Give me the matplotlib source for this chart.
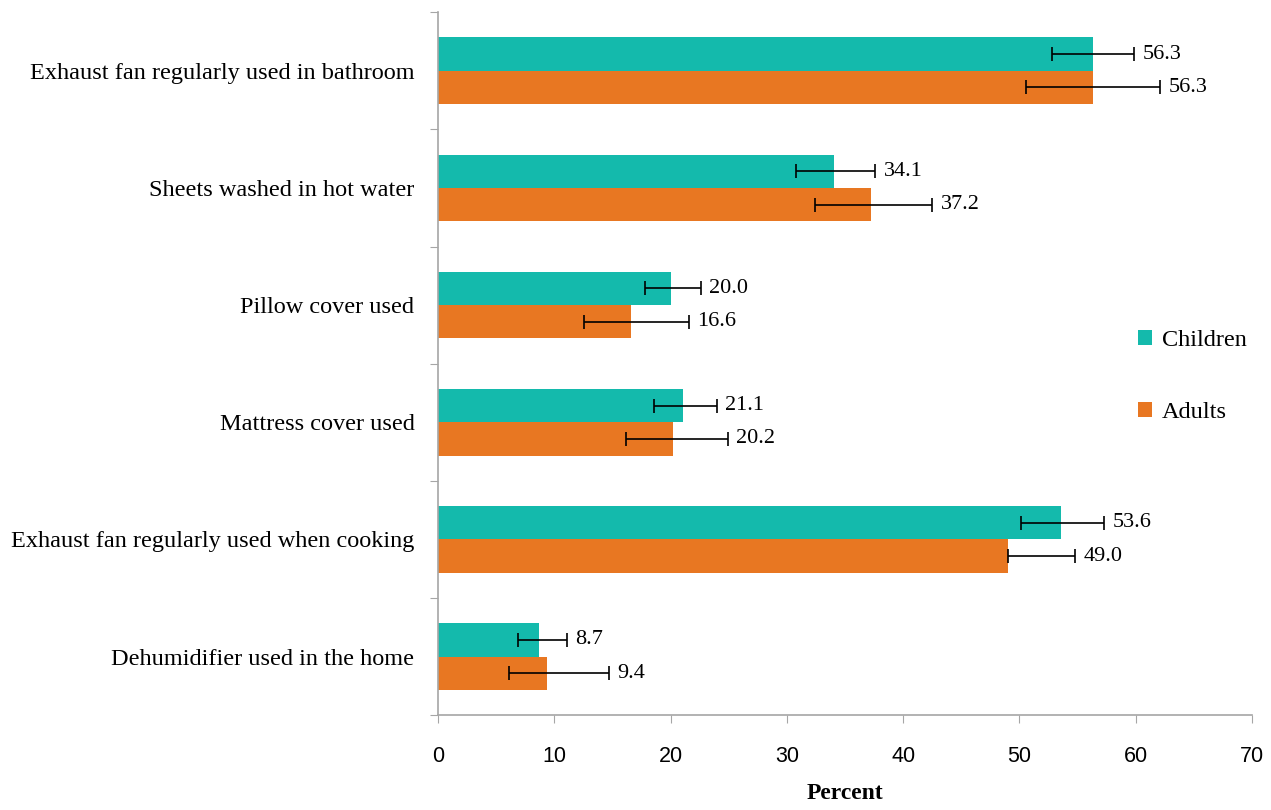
import numpy as np
import matplotlib
matplotlib.use("Agg")
import matplotlib.pyplot as plt

categories = [
    "Exhaust fan regularly used in bathroom",
    "Sheets washed in hot water",
    "Pillow cover used",
    "Mattress cover used",
    "Exhaust fan regularly used when cooking",
    "Dehumidifier used in the home",
]
children = [56.3, 34.1, 20.0, 21.1, 53.6, 8.7]
children_lo = [52.8, 30.8, 17.8, 18.6, 50.1, 6.9]
children_hi = [59.9, 37.6, 22.6, 24.0, 57.3, 11.1]
adults = [56.3, 37.2, 16.6, 20.2, 49.0, 9.4]
adults_lo = [50.6, 32.4, 12.6, 16.2, 49.0, 6.1]
adults_hi = [62.1, 42.5, 21.6, 24.9, 54.8, 14.7]

teal = "#14BAAC"
orange = "#E87722"
grey = "#A6A6A6"
serif = "Liberation Serif"
sans = "Liberation Sans"

fig = plt.figure(figsize=(12.71, 8.10), dpi=100)
ax = fig.add_axes([0.3446, 0.117, 0.6404, 0.868])

y = np.arange(len(categories))
h = 0.285

def draw(vals, lo, hi, offset, color, name):
    vals = np.array(vals)
    err = [vals - np.array(lo), np.array(hi) - vals]
    ax.barh(y + offset, vals, height=h, color=color, label=name)
    ax.errorbar(vals, y + offset, xerr=err, fmt="none", ecolor="black",
                elinewidth=1.2, capsize=5, capthick=1.2)
    for yi, v, top in zip(y + offset, vals, hi):
        ax.annotate(f"{v:.1f}", (top, yi), xytext=(6, 0), textcoords="offset points",
                    va="center", ha="left", fontsize=16, family=serif)

draw(children, children_lo, children_hi, -h / 2, teal, "Children")
draw(adults, adults_lo, adults_hi, h / 2, orange, "Adults")

ax.set_ylim(len(categories) - 0.5, -0.5)
ax.set_xlim(0, 70)
ax.set_xticks(range(0, 71, 10))
ax.set_yticks(np.arange(-0.5, len(categories), 1.0))
ax.set_yticklabels([])
ax.set_yticks(y, minor=True)
ax.set_yticklabels(categories, minor=True, fontsize=17.5, family=serif)
ax.tick_params(axis="y", which="minor", length=0, pad=17)
ax.tick_params(axis="y", which="major", length=6, color=grey)
ax.tick_params(axis="x", length=6, color=grey, labelsize=15.5, pad=16)
for t in ax.get_xticklabels():
    t.set_family(sans)

for s in ["top", "right"]:
    ax.spines[s].set_visible(False)
for s in ["left", "bottom"]:
    ax.spines[s].set_color(grey)
    ax.spines[s].set_linewidth(1.2)

ax.set_xlabel("Percent", fontsize=17, fontweight="bold", family=serif, labelpad=12)

ax.legend(loc="center left", bbox_to_anchor=(0.833, 0.482), frameon=False,
          prop={"family": serif, "size": 17.5}, handlelength=0.6, handleheight=0.6,
          handletextpad=0.4, labelspacing=2.1)

fig.savefig("out.png", dpi=100)
